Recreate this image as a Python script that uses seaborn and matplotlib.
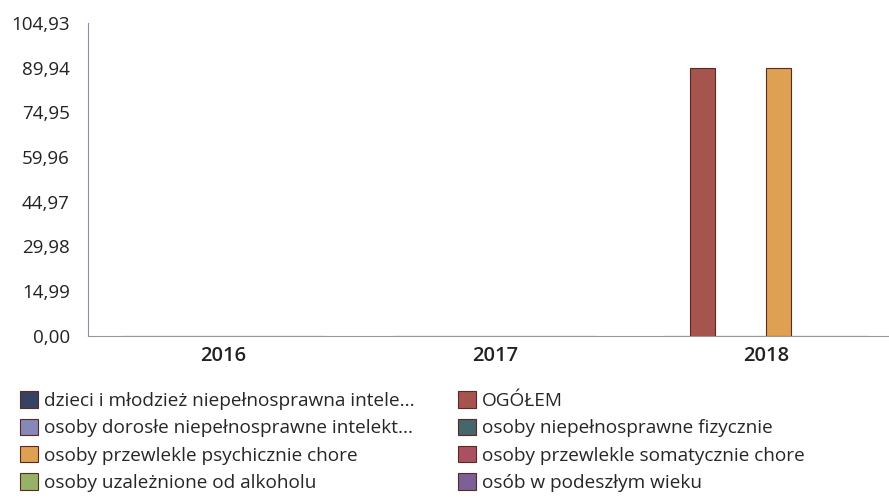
import numpy as np
import pandas as pd
import matplotlib
matplotlib.use("Agg")
import matplotlib.pyplot as plt
import seaborn as sns

# data
years = ["2016", "2017", "2018"]
series = [
    "dzieci i młodzież niepełnosprawna intele...",
    "OGÓŁEM",
    "osoby dorosłe niepełnosprawne intelekt...",
    "osoby niepełnosprawne fizycznie",
    "osoby przewlekle psychicznie chore",
    "osoby przewlekle somatycznie chore",
    "osoby uzależnione od alkoholu",
    "osób w podeszłym wieku",
]
values_2016 = [0, 0, 0, 0, 0, 0, 0, 0]
values_2017 = [0, 0, 0, 0, 0, 0, 0, 0]
values_2018 = [0, 89.94, 0, 0, 89.94, 0, 0, 0]
y_ticks = [0.00, 14.99, 29.98, 44.97, 59.96, 74.95, 89.94, 104.93]

colors = ["#2f3d6b", "#b5473f", "#7c80c0", "#3e6b74",
          "#f5a23c", "#b8425a", "#9bbd5c", "#7a58a0"]

rows = []
for year, vals in zip(years, [values_2016, values_2017, values_2018]):
    for s, v in zip(series, vals):
        rows.append({"year": year, "series": s, "value": v})
df = pd.DataFrame(rows)

sns.set_style("white")
plt.rcParams["font.family"] = ["Open Sans", "DejaVu Sans"]

fig = plt.figure(figsize=(8.89, 4.99), dpi=100)
ax = fig.add_axes([0.099, 0.327, 0.915, 0.627])

sns.barplot(data=df, x="year", y="value", hue="series", hue_order=series,
            palette=colors, width=0.75, edgecolor="#5a2a20", linewidth=0.8,
            ax=ax)

ax.set_ylim(0, y_ticks[-1])
ax.set_yticks(y_ticks)
ax.set_yticklabels([f"{t:.2f}".replace(".", ",") for t in y_ticks], fontsize=13.5, color="#222222")
ax.tick_params(axis="x", labelsize=14.5, colors="#222222", length=0, pad=7)
ax.tick_params(axis="y", length=0, pad=13)
for lab in ax.get_xticklabels():
    lab.set_fontweight("semibold")
ax.set_xlabel("")
ax.set_ylabel("")

for side in ["top", "right"]:
    ax.spines[side].set_visible(False)
ax.spines["left"].set_color("#8a8fb0")
ax.spines["left"].set_linewidth(0.8)
ax.spines["bottom"].set_color("#999999")
ax.spines["bottom"].set_linewidth(0.8)

# legend under the chart, two columns read row by row
handles, labels = ax.get_legend_handles_labels()
ax.get_legend().remove()
order = [0, 2, 4, 6, 1, 3, 5, 7]
fig.legend([handles[i] for i in order], [labels[i] for i in order],
           loc="upper left", bbox_to_anchor=(0.003, 0.25), ncol=2,
           frameon=False, fontsize=13.7, handlelength=0.95, handleheight=0.95,
           handletextpad=0.3, columnspacing=2.3, labelspacing=0.45)

plt.savefig("out.png", dpi=100)
